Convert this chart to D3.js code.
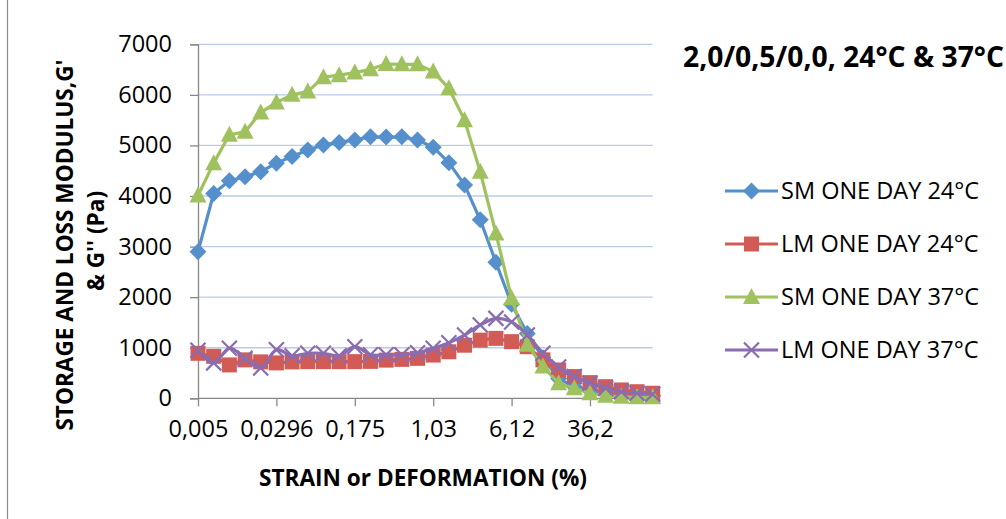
<!DOCTYPE html>
<html>
<head>
<meta charset="utf-8">
<script src="https://cdn.jsdelivr.net/npm/d3@7"></script>
<style>
  html, body { margin: 0; padding: 0; background: #fff; }
  svg { display: block; font-family: "Open Sans", "Noto Sans", sans-serif; }
</style>
</head>
<body>
<svg id="chart" width="1006" height="519"></svg>
<script>
// Strain sweep categories (%), logarithmic steps
const strains = ["0,005","0,00714","0,0102","0,0145","0,0207","0,0296","0,0422","0,0602","0,0859","0,123",
                 "0,175","0,25","0,356","0,508","0,725","1,03","1,47","2,1","3","4,29",
                 "6,12","8,74","12,5","17,8","25,4","36,2","51,7","73,8","105","150"];
const xTickLabels = ["0,005","0,0296","0,175","1,03","6,12","36,2"];
const yTicks = [0,1000,2000,3000,4000,5000,6000,7000];

// Moduli (Pa)
const smDay24 = [2900,4050,4300,4380,4480,4650,4780,4910,5010,5060,5110,5170,5165,5170,5110,4965,4660,4220,3530,2690,1860,1280,800,390,230,150,110,80,60,50];
const lmDay24 = [890,830,660,760,720,700,720,725,725,725,725,730,755,770,790,855,920,1050,1150,1185,1120,1020,760,560,430,310,230,165,130,100];
const smDay37 = [4010,4650,5210,5270,5650,5850,6000,6065,6350,6390,6440,6505,6610,6605,6605,6460,6130,5500,4480,3260,1980,1060,630,300,200,100,50,30,20,20];
const lmDay37 = [950,700,990,790,600,960,840,890,890,840,1020,860,860,860,900,990,1100,1250,1450,1580,1510,1250,890,620,430,300,200,130,100,80];

const seriesNames = ["SM ONE DAY 24°C","LM ONE DAY 24°C","SM ONE DAY 37°C","LM ONE DAY 37°C"];
const seriesColors = ["#5590cc","#d25b55","#9fc25f","#8a6cb0"];
const seriesMarkers = ["diamond","square","triangle","cross"];
const seriesValues = [smDay24, lmDay24, smDay37, lmDay37];
const seriesSmooth = [false, false, false, true];

const svg = d3.select("#chart");
const plot = {left: 198, right: 652.7, top: 44.3, bottom: 398.3};

const x = d3.scalePoint().domain(strains).range([plot.left, plot.right]);
const y = d3.scaleLinear().domain([0, 7000]).range([plot.bottom, plot.top]);

// chart frame edge
svg.append("line").attr("x1", 7.5).attr("x2", 7.5).attr("y1", 0).attr("y2", 519)
  .attr("stroke", "#8c8c8c").attr("stroke-width", 1.2);

// horizontal gridlines
svg.append("g").selectAll("line").data(yTicks.filter(d => d > 0)).join("line")
  .attr("x1", plot.left).attr("x2", plot.right)
  .attr("y1", d => y(d)).attr("y2", d => y(d))
  .attr("stroke", "#b9cde8").attr("stroke-width", 1.3);

// y axis
const yAxis = d3.axisLeft(y).tickValues(yTicks).tickSize(8).tickPadding(18).tickFormat(d3.format("d"));
const gy = svg.append("g").attr("transform", `translate(${plot.left},0)`).call(yAxis);
gy.select(".domain").attr("stroke", "#888").attr("stroke-width", 1.3);
gy.selectAll(".tick line").attr("stroke", "#888").attr("stroke-width", 1.3);
gy.selectAll(".tick text").attr("font-size", 23.5).attr("fill", "#000")
  .attr("font-family", "'Open Sans', sans-serif");

// x axis (every fifth category labelled)
const xAxis = d3.axisBottom(x)
  .tickValues(strains.filter(s => xTickLabels.includes(s)))
  .tickSize(8).tickPadding(14);
const gx = svg.append("g").attr("transform", `translate(0,${plot.bottom})`).call(xAxis);
gx.select(".domain").attr("stroke", "#888").attr("stroke-width", 1.3)
  .attr("d", `M${plot.left},0H${plot.right}`);
gx.selectAll(".tick line").attr("stroke", "#888").attr("stroke-width", 1.3);
gx.selectAll(".tick text").attr("font-size", 23.5).attr("fill", "#000")
  .attr("font-family", "'Open Sans', sans-serif");

// marker drawing
function drawMarker(g, type, color, cx, cy) {
  if (type === "diamond") {
    g.append("path").attr("d", `M${cx},${cy-8.5}L${cx+8.5},${cy}L${cx},${cy+8.5}L${cx-8.5},${cy}Z`)
      .attr("fill", color);
  } else if (type === "square") {
    g.append("rect").attr("x", cx-7.5).attr("y", cy-7.5).attr("width", 15).attr("height", 15)
      .attr("fill", color);
  } else if (type === "triangle") {
    g.append("path").attr("d", `M${cx},${cy-9}L${cx+8.5},${cy+7}L${cx-8.5},${cy+7}Z`)
      .attr("fill", color);
  } else if (type === "cross") {
    g.append("path").attr("d", `M${cx-7.5},${cy-7.5}L${cx+7.5},${cy+7.5}M${cx+7.5},${cy-7.5}L${cx-7.5},${cy+7.5}`)
      .attr("stroke", color).attr("stroke-width", 2.2).attr("fill", "none");
  }
}

// series: line then markers, in order
seriesValues.forEach((vals, si) => {
  const g = svg.append("g");
  const line = d3.line()
    .x((d, i) => x(strains[i]))
    .y(d => y(d))
    .curve(seriesSmooth[si] ? d3.curveCatmullRom.alpha(0.5) : d3.curveLinear);
  g.append("path").datum(vals).attr("d", line)
    .attr("fill", "none").attr("stroke", seriesColors[si]).attr("stroke-width", 3.2)
    .attr("stroke-linejoin", "round");
  vals.forEach((v, i) => drawMarker(g, seriesMarkers[si], seriesColors[si], x(strains[i]), y(v)));
});

// legend
const legend = svg.append("g");
seriesNames.forEach((name, i) => {
  const ly = 191 + i * 53;
  legend.append("line").attr("x1", 725).attr("x2", 778).attr("y1", ly).attr("y2", ly)
    .attr("stroke", seriesColors[i]).attr("stroke-width", 3.2);
  drawMarker(legend, seriesMarkers[i], seriesColors[i], 751.5, ly);
  legend.append("text").attr("x", 781).attr("y", ly).attr("dy", "0.35em")
    .attr("font-size", 23.5).attr("fill", "#000").text(name);
});

// title
svg.append("text").attr("x", 683).attr("y", 57).attr("dy", "0.35em")
  .attr("font-size", 28.3).attr("font-weight", "bold").attr("fill", "#000")
  .text("2,0/0,5/0,0, 24°C & 37°C");

// axis titles
svg.append("text").attr("x", 423).attr("y", 478).attr("dy", "0.35em")
  .attr("text-anchor", "middle").attr("font-size", 22.6).attr("font-weight", "bold").attr("fill", "#000")
  .text("STRAIN or DEFORMATION (%)");

const yTitle = svg.append("text").attr("transform", "rotate(-90)")
  .attr("text-anchor", "middle").attr("font-size", 22.6).attr("font-weight", "bold").attr("fill", "#000");
yTitle.append("tspan").attr("x", -245).attr("y", 65).attr("dy", "0.35em").text("STORAGE AND LOSS MODULUS,G'");
yTitle.append("tspan").attr("x", -241).attr("y", 96).attr("dy", "0.35em").text("& G'' (Pa)");
</script>
</body>
</html>
